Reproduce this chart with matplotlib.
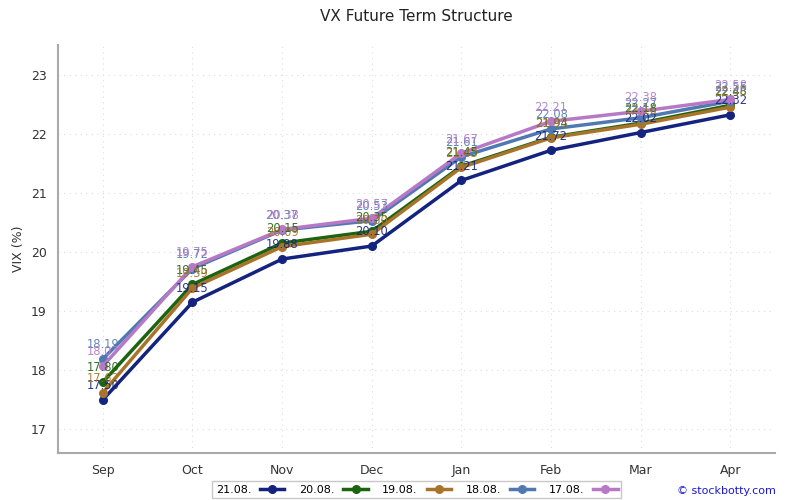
import matplotlib
matplotlib.use('Agg')
import matplotlib.pyplot as plt

months = ['Sep', 'Oct', 'Nov', 'Dec', 'Jan', 'Feb', 'Mar', 'Apr']
dates = ['21.08.', '20.08.', '19.08.', '18.08.', '17.08.']
vix_2108 = [17.50, 19.15, 19.88, 20.10, 21.21, 21.72, 22.02, 22.32]
vix_2008 = [17.80, 19.45, 20.15, 20.35, 21.45, 21.94, 22.18, 22.48]
vix_1908 = [17.62, 19.39, 20.09, 20.30, 21.43, 21.93, 22.16, 22.45]
vix_1808 = [18.19, 19.72, 20.37, 20.53, 21.61, 22.08, 22.27, 22.55]
vix_1708 = [18.07, 19.75, 20.38, 20.57, 21.67, 22.21, 22.38, 22.58]
series = [vix_2108, vix_2008, vix_1908, vix_1808, vix_1708]
colors = ['#13237f', '#1c6410', '#a8732a', '#5079b2', '#b779c6']

fig = plt.figure(figsize=(8, 5), dpi=100)
ax = fig.add_axes([0.0725, 0.094, 0.8965, 0.816])

x = list(range(len(months)))
for vals, lab, col in zip(series, dates, colors):
    ax.plot(x, vals, color=col, lw=2.5, marker='o', ms=5.5, label=lab)
    for xi, v in zip(x, vals):
        ax.annotate('%.2f' % v, (xi, v), xytext=(0, 5.5), textcoords='offset points',
                    ha='center', va='bottom', fontsize=8.3, color=col, alpha=0.9)

ax.set_xlim(-0.5, 7.5)
ax.set_ylim(16.6, 23.5)
ax.set_xticks(x)
ax.set_xticklabels(months)
ax.set_yticks([17, 18, 19, 20, 21, 22, 23])
ax.tick_params(length=0, labelsize=9, labelcolor='#333333', pad=8)
ax.set_ylabel('VIX (%)', fontsize=9, color='#333333')
ax.set_title('VX Future Term Structure', fontsize=11, color='#222222', pad=17)
ax.grid(True, linestyle=(0, (1, 4)), color='#dddddd', lw=0.8)
for s in ['top', 'right']:
    ax.spines[s].set_visible(False)
for s in ['left', 'bottom']:
    ax.spines[s].set_color('#aaaaaa')
    ax.spines[s].set_linewidth(1.5)

ax.legend(loc='upper center', bbox_to_anchor=(0.5, -0.056), ncol=5, fontsize=8,
          markerfirst=False, frameon=True, edgecolor='#bbbbbb', fancybox=False,
          handlelength=2.2, columnspacing=1.3, borderpad=0.3)
fig.text(0.97, 0.008, '© stockbotty.com', ha='right', va='bottom', fontsize=8, color='#1a1acc')

fig.savefig('out.png')
